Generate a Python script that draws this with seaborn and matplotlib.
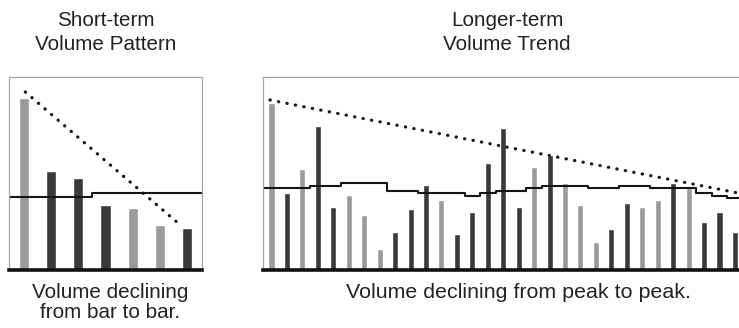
import pandas as pd
import matplotlib.pyplot as plt
import seaborn as sns

# short-term panel: seven bars, volume falling bar to bar
short_vol = [172, 99, 92, 65, 62, 45, 42]
short_shade = ['light', 'dark', 'dark', 'dark', 'light', 'light', 'dark']
short_avg = [73, 73, 73, 77, 77, 77, 77]
short_trend_x = [0.05, 5.75]
short_trend_y = [178, 45]

# longer-term panel: 31 bars, peaks getting lower
long_vol = [167, 77, 101, 144, 63, 75, 55, 21, 38, 61, 85, 70, 36, 58, 107, 142,
            63, 103, 115, 87, 65, 28, 41, 67, 63, 70, 87, 82, 48, 58, 38]
long_shade = ['light', 'dark', 'light', 'dark', 'dark', 'light', 'light', 'light',
              'dark', 'dark', 'dark', 'light', 'dark', 'dark', 'dark', 'dark',
              'dark', 'light', 'dark', 'light', 'light', 'light', 'dark', 'dark',
              'light', 'light', 'dark', 'light', 'dark', 'dark', 'dark']
long_avg = [82, 82, 82, 84, 84, 87, 87, 87, 79, 79, 77, 77, 77, 74, 77, 79,
            79, 82, 84, 84, 84, 82, 82, 84, 84, 82, 82, 82, 77, 74, 72]
long_trend_x = [-0.1, 30.2]
long_trend_y = [170, 77]

shade_colors = {'light': '#9b9b9b', 'dark': '#3a3a3a'}

sns.set_theme(style='white')
plt.rcParams['font.family'] = ['Liberation Sans', 'DejaVu Sans']

W, H = 739, 328
fig = plt.figure(figsize=(W / 100, H / 100), dpi=100)


def px_axes(left, top, right, bottom):
    return fig.add_axes([left / W, 1 - bottom / H, (right - left) / W, (bottom - top) / H])


def volume_panel(ax, vol, shade, avg, tx, ty, xlim, width):
    df = pd.DataFrame({'bar': range(len(vol)), 'volume': vol, 'shade': shade})
    sns.barplot(data=df, x='bar', y='volume', hue='shade', palette=shade_colors,
                dodge=False, width=width, saturation=1, legend=False, ax=ax)
    xs = [xlim[0]] + list(range(len(avg))) + [xlim[1]]
    ys = [avg[0]] + avg + [avg[-1]]
    ax.plot(xs, ys, color='#151515', lw=1.5, drawstyle='steps-mid')
    ax.plot(tx, ty, color='#151515', lw=2.3, linestyle=(0, (0.1, 2.6)),
            dash_capstyle='round')
    ax.set_xlim(*xlim)
    ax.set_ylim(0, 193)
    ax.set_xticks([])
    ax.set_yticks([])
    ax.set_xlabel('')
    ax.set_ylabel('')
    for side in ['top', 'left', 'right']:
        ax.spines[side].set_color('#a5a5a5')
        ax.spines[side].set_linewidth(0.9)
    ax.spines['bottom'].set_color('#111111')
    ax.spines['bottom'].set_linewidth(2.6)


ax1 = px_axes(9, 77, 202, 270)
volume_panel(ax1, short_vol, short_shade, short_avg, short_trend_x, short_trend_y,
             (-0.55, 6.55), 0.37)

ax2 = px_axes(263, 77, 745, 270)
volume_panel(ax2, long_vol, long_shade, long_avg, long_trend_x, long_trend_y,
             (-0.55, 30.65), 0.39)

txt = dict(fontsize=14.9, color='#222222', ha='center', va='top', linespacing=1.32)
fig.text(106 / W, 1 - 11 / H, 'Short-term\nVolume Pattern', **txt)
fig.text(507 / W, 1 - 11 / H, 'Longer-term\nVolume Trend', **txt)
fig.text(110 / W, 1 - 283 / H, 'Volume declining\nfrom bar to bar.', **dict(txt, linespacing=1.1))
fig.text(518 / W, 1 - 283 / H, 'Volume declining from peak to peak.', **dict(txt, fontsize=15.4))

fig.savefig('out.png', dpi=100, facecolor='white')
